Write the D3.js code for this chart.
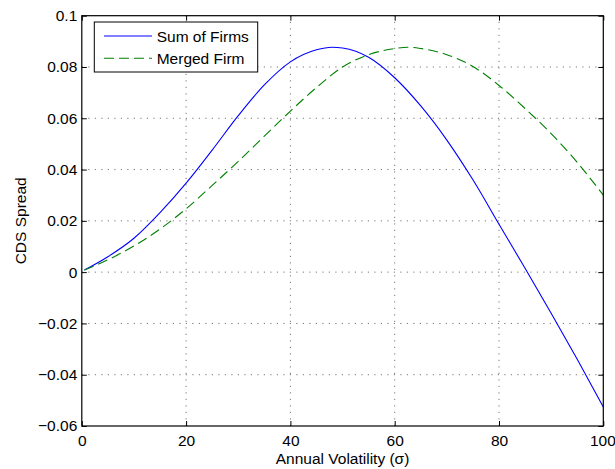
<!DOCTYPE html>
<html>
<head>
<meta charset="utf-8">
<script src="https://cdn.jsdelivr.net/npm/d3@7"></script>
<style>
  html, body { margin: 0; padding: 0; background: #fff; }
  svg { display: block; font-family: "Liberation Sans", Arial, Helvetica, sans-serif; }
</style>
</head>
<body>
<svg id="chart" width="615" height="469"></svg>
<script>
// Annual volatility (sigma) sample points for each curve
const volatilitySum = [0.5, 5, 10, 15, 20, 25, 30, 35, 40, 45, 48, 50, 55, 60, 65, 70, 75, 80, 85, 90, 95, 100];
const volatilityMerged = [0.5, 5, 10, 15, 20, 25, 30, 35, 40, 45, 50, 55, 60, 62.5, 65, 70, 75, 80, 85, 90, 95, 100];

// CDS spread, sum of the individual firms
const sumOfFirms = [0.0008, 0.0060, 0.0132, 0.0232, 0.0347, 0.0476, 0.0610, 0.0730, 0.0820, 0.0867, 0.0877, 0.0874, 0.0838, 0.0758, 0.0648, 0.0515, 0.0360, 0.0187, 0.0015, -0.0160, -0.0340, -0.0526];

// CDS spread, merged firm
const mergedFirm = [0.0008, 0.0048, 0.0102, 0.0168, 0.0247, 0.0338, 0.0432, 0.0530, 0.0628, 0.0720, 0.0800, 0.0848, 0.0872, 0.0877, 0.0872, 0.0848, 0.0802, 0.0728, 0.0638, 0.0540, 0.0428, 0.0300];

const seriesNames = ["Sum of Firms", "Merged Firm"];

const xTicks = [0, 20, 40, 60, 80, 100];
const xTickLabels = ["0", "20", "40", "60", "80", "100"];
const yTicks = [-0.06, -0.04, -0.02, 0, 0.02, 0.04, 0.06, 0.08, 0.1];
const yTickLabels = ["\u22120.06", "\u22120.04", "\u22120.02", "0", "0.02", "0.04", "0.06", "0.08", "0.1"];

const xLabel = "Annual Volatility (\u03c3)";
const yLabel = "CDS Spread";

const svg = d3.select("#chart");
const plotL = 81.8, plotR = 603.3, plotT = 15.7, plotB = 426;
const fontSize = 15.5;

const x = d3.scaleLinear().domain([0, 100]).range([plotL, plotR]);
const y = d3.scaleLinear().domain([-0.06, 0.1]).range([plotB, plotT]);

// dotted grid
const grid = svg.append("g").attr("stroke", "#777").attr("stroke-width", 1).attr("stroke-dasharray", "1.2,5.3");
xTicks.slice(1, -1).forEach(t => {
  grid.append("line").attr("x1", x(t)).attr("x2", x(t)).attr("y1", plotB).attr("y2", plotT);
});
yTicks.slice(1, -1).forEach(t => {
  grid.append("line").attr("x1", plotL).attr("x2", plotR).attr("y1", y(t)).attr("y2", y(t));
});

// curves
svg.append("defs").append("clipPath").attr("id", "plot")
  .append("rect").attr("x", plotL).attr("y", plotT).attr("width", plotR - plotL).attr("height", plotB - plotT);

const line = (xs, vals) => d3.line()
  .x((d, i) => x(xs[i]))
  .y(d => y(d))
  .curve(d3.curveMonotoneX)(vals);

const curves = svg.append("g").attr("clip-path", "url(#plot)").attr("fill", "none");
curves.append("path").attr("d", line(volatilitySum, sumOfFirms)).attr("stroke", "#0000ff").attr("stroke-width", 1.1);
curves.append("path").attr("d", line(volatilityMerged, mergedFirm)).attr("stroke", "#008000").attr("stroke-width", 1.1)
  .attr("stroke-dasharray", "10,5");

// axes with inward ticks on all four sides
const tickLen = 5;
const xAxisB = d3.axisBottom(x).tickValues(xTicks).tickFormat((d, i) => xTickLabels[i])
  .tickSizeInner(-tickLen).tickSizeOuter(0).tickPadding(9);
const xAxisT = d3.axisTop(x).tickValues(xTicks).tickFormat("").tickSizeInner(-tickLen).tickSizeOuter(0);
const yAxisL = d3.axisLeft(y).tickValues(yTicks).tickFormat((d, i) => yTickLabels[i])
  .tickSizeInner(-tickLen).tickSizeOuter(0).tickPadding(4.5);
const yAxisR = d3.axisRight(y).tickValues(yTicks).tickFormat("").tickSizeInner(-tickLen).tickSizeOuter(0);

function styleAxis(g) {
  g.select(".domain").remove();
  g.selectAll("line").attr("stroke", "#000").attr("stroke-width", 1);
  g.selectAll("text").attr("fill", "#000").style("font-size", fontSize + "px")
    .style("font-family", "'Liberation Sans', Arial, Helvetica, sans-serif");
}

const gx = svg.append("g").attr("transform", `translate(0,${plotB})`).call(xAxisB).call(styleAxis);
// keep the last tick label inside the page edge
gx.selectAll(".tick text").filter(d => d === 100).attr("text-anchor", "end").attr("x", 12);
svg.append("g").attr("transform", `translate(0,${plotT})`).call(xAxisT).call(styleAxis);
svg.append("g").attr("transform", `translate(${plotL},0)`).call(yAxisL).call(styleAxis);
svg.append("g").attr("transform", `translate(${plotR},0)`).call(yAxisR).call(styleAxis);

// axes box
svg.append("rect").attr("x", plotL).attr("y", plotT).attr("width", plotR - plotL).attr("height", plotB - plotT)
  .attr("fill", "none").attr("stroke", "#000").attr("stroke-width", 1.2);

// axis titles
svg.append("text").attr("x", (plotL + plotR) / 2).attr("y", 464)
  .attr("text-anchor", "middle").style("font-size", fontSize + "px").text(xLabel);
svg.append("text").attr("transform", `translate(26,${(plotT + plotB) / 2}) rotate(-90)`)
  .attr("text-anchor", "middle").style("font-size", fontSize + "px").text(yLabel);

// legend
const legend = svg.append("g");
legend.append("rect").attr("x", 94.3).attr("y", 22).attr("width", 163.4).attr("height", 50)
  .attr("fill", "#fff").attr("stroke", "#000").attr("stroke-width", 1);
const legendRows = [
  { name: seriesNames[0], color: "#0000ff", dash: null, cy: 36 },
  { name: seriesNames[1], color: "#008000", dash: "10,5", cy: 58.3 }
];
legendRows.forEach(r => {
  legend.append("line").attr("x1", 104).attr("x2", 152).attr("y1", r.cy).attr("y2", r.cy)
    .attr("stroke", r.color).attr("stroke-width", 1.1).attr("stroke-dasharray", r.dash);
  legend.append("text").attr("x", 156.7).attr("y", r.cy).attr("dy", "0.36em")
    .style("font-size", fontSize + "px").text(r.name);
});
</script>
</body>
</html>
